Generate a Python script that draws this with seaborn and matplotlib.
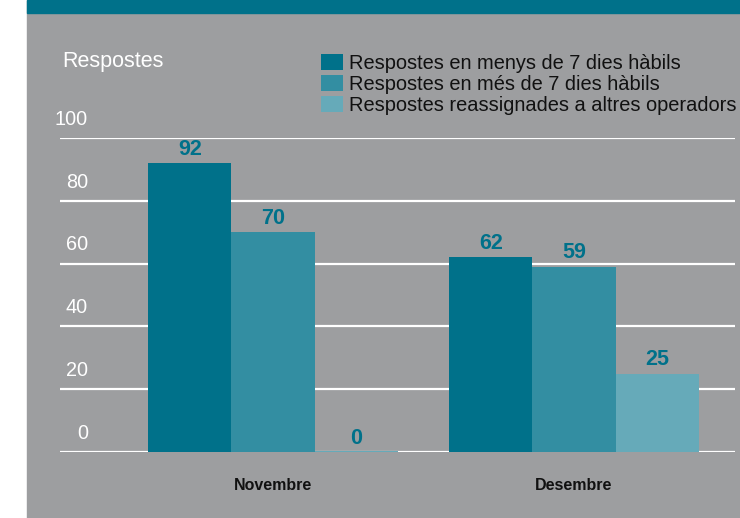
import matplotlib
matplotlib.use("Agg")
import matplotlib.pyplot as plt
import seaborn as sns
import pandas as pd
from matplotlib.patches import Rectangle, Patch

# data
months = ["Novembre", "Desembre"]
series = ["Respostes en menys de 7 dies hàbils",
          "Respostes en més de 7 dies hàbils",
          "Respostes reassignades a altres operadors"]
menys7 = [92, 62]
mes7 = [70, 59]
reassignades = [0, 25]
yticks = [0, 20, 40, 60, 80, 100]
colors = ["#00718a", "#338ea2", "#66aab9"]

df = pd.DataFrame({"mes": months * 3,
                   "serie": [s for s in series for _ in months],
                   "valor": menys7 + mes7 + reassignades})

sns.set_theme(style="white")
plt.rcParams['font.family'] = ['Liberation Sans', 'DejaVu Sans']

fig = plt.figure(figsize=(7.4, 5.18), dpi=100)
fig.patch.set_facecolor("white")
# grey panel + teal strip on top (behind the axes)
fig.patches.append(Rectangle((27/740, 0), 1, 1, transform=fig.transFigure,
                             color="#9d9ea0", zorder=-2))
fig.patches.append(Rectangle((27/740, 1 - 13/518), 1, 13/518,
                             transform=fig.transFigure, color="#00718a", zorder=-1))

ax = fig.add_axes([60/740, 1 - 452/518, 675/740, 314/518])
ax.set_facecolor("none")
for t in yticks:
    ax.axhline(t, color="white", lw=1.6, zorder=0)

sns.barplot(data=df, x="mes", y="valor", hue="serie", palette=colors,
            width=0.83, saturation=1, ax=ax, legend=False, zorder=2)

for p in ax.patches:
    p.set_linewidth(0)
    if p.get_height() == 0:
        p.set_edgecolor(p.get_facecolor())
        p.set_linewidth(1.5)

for c in ax.containers:
    ax.bar_label(c, fmt="{:.0f}", color="#00718a", fontsize=15.5,
                 fontweight="bold", padding=2.5)

ax.set_ylim(0, 100)
ax.set_xlim(-0.708, 1.535)
ax.set_xlabel("")
ax.set_ylabel("")
ax.set_yticks([])
sns.despine(ax=ax, left=True, bottom=True)
ax.tick_params(axis="x", length=0, pad=19)
for lbl in ax.get_xticklabels():
    lbl.set_fontweight("bold")
    lbl.set_fontsize(11.5)
    lbl.set_color("#111111")

for t in yticks:
    ax.annotate(str(t), xy=(28/675, t), xycoords=ax.get_yaxis_transform(),
                xytext=(0, 13.5), textcoords="offset points",
                ha="right", va="center", color="white", fontsize=14.3)

fig.text(62/740, 1 - 62/518, "Respostes", color="white", fontsize=15.5,
         ha="left", va="center")

handles = [Patch(facecolor=c, edgecolor="none") for c in colors]
fig.legend(handles, series, loc="upper left",
           bbox_to_anchor=(321/740, 1 - 54/518), frameon=False,
           fontsize=14.4, labelcolor="#111111", handlelength=1.1,
           handleheight=0.8, handletextpad=0.3, labelspacing=0.1,
           borderpad=0, borderaxespad=0)

fig.savefig("out.png", dpi=100)
